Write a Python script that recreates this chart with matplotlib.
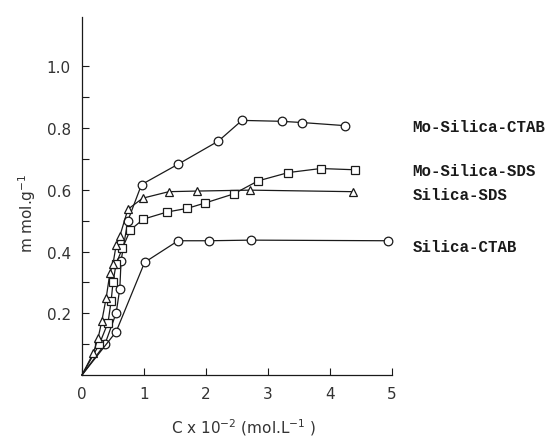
import matplotlib
matplotlib.use("Agg")
import matplotlib.pyplot as plt
from matplotlib.ticker import FixedLocator

# Data
mo_ctab_x = [0, 0.37, 0.55, 0.61, 0.63, 0.74, 0.96, 1.55, 2.20, 2.58, 3.22, 3.55, 4.24]
mo_ctab_y = [0, 0.10, 0.20, 0.28, 0.37, 0.50, 0.617, 0.683, 0.758, 0.825, 0.822, 0.818, 0.808]

mo_sds_x = [0, 0.28, 0.42, 0.47, 0.50, 0.55, 0.65, 0.78, 0.99, 1.37, 1.70, 1.98, 2.45, 2.84, 3.33, 3.85, 4.40]
mo_sds_y = [0, 0.10, 0.17, 0.24, 0.30, 0.36, 0.41, 0.47, 0.505, 0.528, 0.540, 0.557, 0.587, 0.629, 0.656, 0.669, 0.665]

si_sds_x = [0, 0.18, 0.26, 0.32, 0.39, 0.45, 0.50, 0.55, 0.61, 0.74, 0.98, 1.40, 1.85, 2.71, 4.37]
si_sds_y = [0, 0.07, 0.12, 0.175, 0.25, 0.33, 0.36, 0.42, 0.45, 0.537, 0.573, 0.594, 0.596, 0.599, 0.594]

si_ctab_x = [0, 0.55, 1.01, 1.55, 2.05, 2.72, 4.94]
si_ctab_y = [0, 0.14, 0.365, 0.435, 0.435, 0.437, 0.435]

series_labels = ["Mo-Silica-CTAB", "Mo-Silica-SDS", "Silica-SDS", "Silica-CTAB"]
label_y = [0.805, 0.663, 0.584, 0.415]

x_ticks = [0, 1, 2, 3, 4, 5]
y_ticks = [0.2, 0.4, 0.6, 0.8, 1.0]
y_minor = [0.1, 0.3, 0.5, 0.7, 0.9]

fig = plt.figure(figsize=(5.46, 4.39), dpi=100)
ax = fig.add_axes([82/546, 1 - 376/439, 310/546, 358/439])

ink = "#1a1a1a"
mk = dict(markerfacecolor="white", markeredgecolor=ink, markeredgewidth=0.9,
          clip_on=False, markevery=slice(1, None))
ax.plot(mo_ctab_x, mo_ctab_y, "-", color=ink, lw=0.9, marker="o", ms=6.2, **mk)
ax.plot(mo_sds_x, mo_sds_y, "-", color=ink, lw=0.9, marker="s", ms=5.6, **mk)
ax.plot(si_sds_x, si_sds_y, "-", color=ink, lw=0.9, marker="^", ms=5.6, **mk)
ax.plot(si_ctab_x, si_ctab_y, "-", color=ink, lw=0.9, marker="o", ms=6.2, **mk)

ax.set_xlim(0, 5)
ax.set_ylim(0, 1.16)
for s in ["top", "right"]:
    ax.spines[s].set_visible(False)
for s in ["left", "bottom"]:
    ax.spines[s].set_color(ink)
    ax.spines[s].set_linewidth(0.9)

ax.set_xticks(x_ticks)
ax.set_xticklabels([str(t) for t in x_ticks])
ax.set_yticks(y_ticks)
ax.set_yticklabels(["%.1f" % t for t in y_ticks])
ax.yaxis.set_minor_locator(FixedLocator(y_minor))
ax.tick_params(axis="both", which="both", direction="in", length=5, width=0.8,
               color=ink, labelsize=11, labelcolor="#333333")
ax.tick_params(axis="x", pad=8)
ax.tick_params(axis="y", pad=8)

for lab, yy in zip(series_labels, label_y):
    ax.text(5.33, yy, lab, family="Liberation Mono", fontweight="bold", fontsize=11.3,
            color=ink, va="center", ha="left", transform=ax.transData, clip_on=False)

fig.text(27/546, 1 - 213/439, "m mol.g$^{-1}$", rotation=90, ha="center", va="center",
         fontsize=11, color="#333333")
fig.text(244/546, 1 - 428/439, "C x 10$^{-2}$ (mol.L$^{-1}$ )", ha="center", va="center",
         fontsize=11, color="#333333")

fig.savefig("out.png", dpi=100)
